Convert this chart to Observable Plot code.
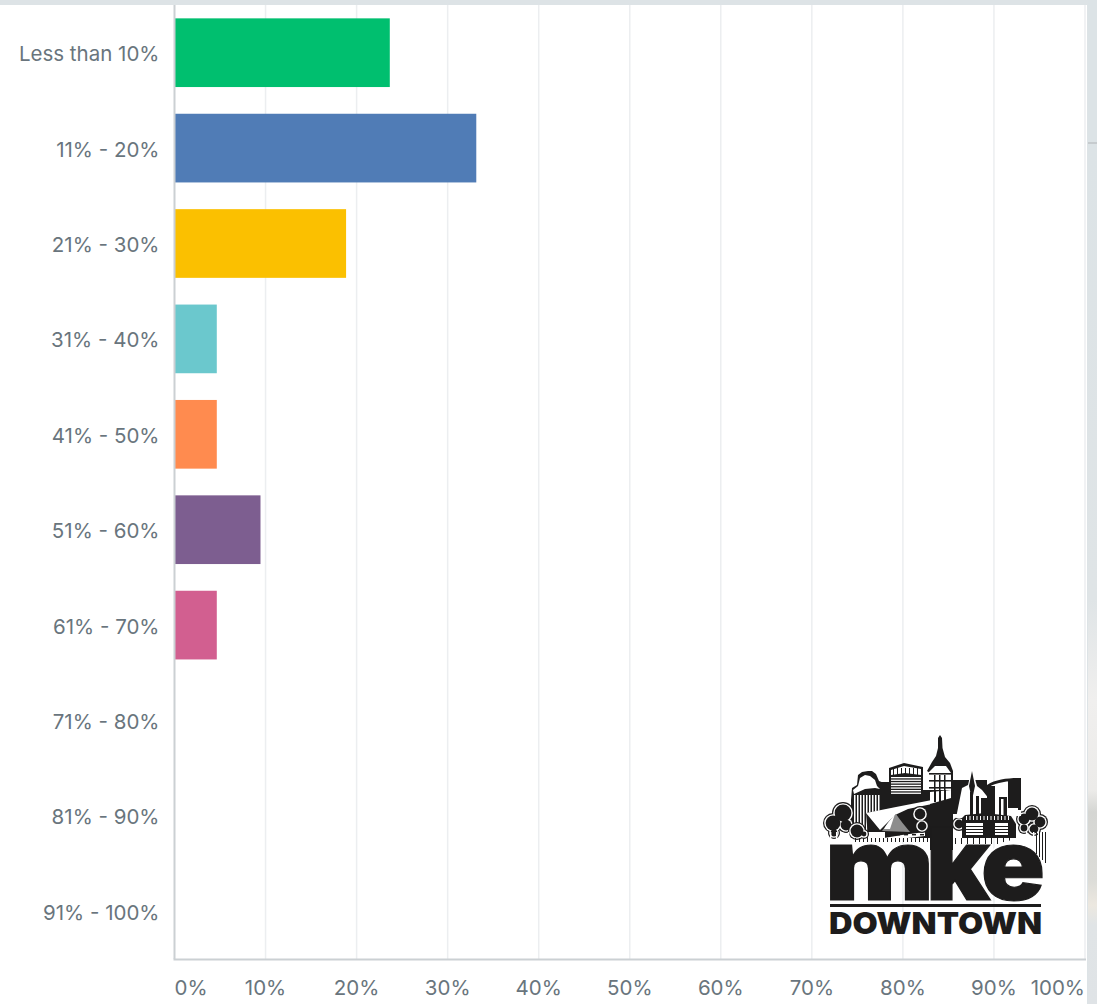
<!DOCTYPE html>
<html>
<head>
<meta charset="utf-8">
<script src="https://cdn.jsdelivr.net/npm/d3@7"></script>
<script src="https://cdn.jsdelivr.net/npm/@observablehq/plot@0.6"></script>
<style>
  html, body { margin: 0; padding: 0; background: #dde3e6; }
  #page { position: relative; width: 1097px; height: 1004px; overflow: hidden; background: #dde3e6; }
  #panel { position: absolute; left: 0; top: 5px; width: 1087px; height: 999px; background: #fff; }
  #strip { position: absolute; left: 1088px; top: 0; width: 9px; height: 1004px;
    background: linear-gradient(to bottom, #dce3e6 0, #dce3e6 142px, #c6cbce 142px, #c6cbce 144px, #dce3e6 144px,
      #dfe4e6 600px, #f0efee 700px, #ecebe9 790px, #d5d6d3 812px, #dcdcd8 880px, #ece8e0 905px, #e0e4e6 925px, #dfe3e6 1004px); }
  #chart { position: absolute; left: 0; top: 0; }
  #chart svg { background: transparent; display: block; }
</style>
</head>
<body>
<div id="page">
  <div id="panel"></div>
  <div id="strip"></div>
  <div id="chart"></div>
</div>
<script>
// Survey answers: share of respondents per range
const categories = ["Less than 10%", "11% - 20%", "21% - 30%", "31% - 40%", "41% - 50%",
  "51% - 60%", "61% - 70%", "71% - 80%", "81% - 90%", "91% - 100%"];
const shares = [23.7, 33.2, 18.9, 4.7, 4.7, 9.5, 4.7, 0, 0, 0];
const barColors = ["#00BF6F", "#507CB6", "#FBC000", "#6BC8CD", "#FF8B4F", "#7D5E90", "#D25F90",
  "#B5B5B5", "#B5B5B5", "#B5B5B5"];
const xTicks = [0, 10, 20, 30, 40, 50, 60, 70, 80, 90, 100];

const answers = categories.map((category, i) => ({category, share: shares[i], color: barColors[i]}));
const labelFont = {fontFamily: "Inter, 'Noto Sans', sans-serif", fontSize: 20.5, fill: "#69757d"};
const tickLabel = d => `${d}%`;
const xLabelOffset = 35;

const chart = Plot.plot({
  width: 1097,
  height: 1004,
  marginLeft: 174,
  marginRight: 12.5,
  marginTop: 5,
  marginBottom: 45,
  style: {background: "transparent", fontFamily: "Inter, sans-serif"},
  x: {domain: [0, 100], axis: null},
  y: {domain: categories, axis: null, paddingInner: 0.28, paddingOuter: 0.14, round: false},
  marks: [
    Plot.ruleX(xTicks.slice(1), {x: d => d, stroke: "#eceef0", strokeWidth: 1.5}),
    Plot.barX(answers.filter(d => d.share > 0), {x: "share", y: "category", fill: "color"}),
    Plot.ruleX([0], {stroke: "#cbd0d3", strokeWidth: 2}),
    Plot.frame({anchor: "bottom", stroke: "#cbd0d3", strokeWidth: 2}),
    Plot.axisY({
      anchor: "left", tickSize: 0, tickPadding: 15, label: null,
      ...labelFont, textAnchor: "end", dy: 1.5
    }),
    Plot.text(xTicks.filter(d => d > 0 && d < 100), {
      x: d => d, frameAnchor: "bottom", dy: xLabelOffset, text: tickLabel, ...labelFont, textAnchor: "middle"
    }),
    Plot.text([0], {x: d => d, frameAnchor: "bottom", dy: xLabelOffset, text: tickLabel, ...labelFont, textAnchor: "start"}),
    Plot.text([100], {x: d => d, frameAnchor: "bottom", dy: xLabelOffset, text: tickLabel, ...labelFont, textAnchor: "end"})
  ]
});
document.getElementById("chart").appendChild(chart);

// Organisation logo, lower right of the plot area
const logo = d3.select(chart).append("g").attr("class", "logo").attr("text-anchor", "start");
const INK = "#1d1c1c";
const poly = (pts, fill = INK) => logo.append("polygon").attr("points", pts).attr("fill", fill);
const box = (x, y, w, h, fill = INK) => logo.append("rect").attr("x", x).attr("y", y).attr("width", w).attr("height", h).attr("fill", fill);
const path = (d, fill = INK) => logo.append("path").attr("d", d).attr("fill", fill);

// Rounded tree: dark outline, pale gap, dark crown
function tree(lobes) {
  for (const [fill, grow] of [[INK, 0], ["#fff", -1.2], [INK, -2.6]]) {
    for (const [cx, cy, r] of lobes) {
      logo.append("circle").attr("cx", cx).attr("cy", cy).attr("r", r + grow).attr("fill", fill);
    }
  }
}

// Stepped office block on the left
poly("851,800 852,788 857,785 858,775 862,772 868,771 872,771 876,774 879,781 884,783 884,812 880,838 851,838");
poly("853,790 858,786 860,778 865,775 870,776 875,780 877,786 880,789 875,788 865,789 854,794", "#fff");
for (const x of [854, 857, 860, 863, 866, 869, 872, 875, 878]) box(x, 795, 1.5, 42, "#fff");
box(881, 782, 9, 32);

// Square tower with a hatched crown
poly("889,768 904,763 923,767 923,815 889,815");
poly("891,770 904,766 921,769 921,775 905,773 891,775", "#fff");
for (let y = 777; y < 794; y += 2.6) box(891, y, 30, 1.3, "#fff");
for (const x of [893, 897, 901, 905, 909, 913, 917]) box(x, 768, 1, 7, INK);
box(923, 790, 8, 25);

// Art museum wing and pavilion
poly("866,813 895,808 932,800 932,838 868,838", INK);
poly("866,813 880,830 888,822 895,815 908,809 932,804 932,800 896,807", "#fff");
path("M882,831 C887,824 892,818 896,814 C900,820 905,826 910,832 Z", "#8d8d8d");
path("M884,829 C888,822 892,818 895,814 L890,829 Z", "#fff");
poly("866,832 885,832 885,838 868,838", "#fff");
poly("884,838 902,835 925,832 925,836 890,840", "#fff");
for (const x of [896, 904, 912, 920]) box(x, 834, 4, 1.4, INK);

// Trees along the skyline
tree([[833, 823, 10], [843, 813, 11], [846, 825, 8], [834, 833, 6]]);
tree([[857, 831, 9], [864, 834, 5]]);
tree([[920, 814, 8], [922, 826, 7]]);
tree([[959, 824, 7]]);
tree([[1024, 819, 8], [1032, 814, 9], [1040, 822, 8], [1034, 829, 7], [1024, 828, 6]]);
for (const x of [830, 836, 842, 848, 1026, 1033, 1038]) box(x, 832, 1.4, 10, "#fff");

// Right-hand skyline: spired block, stadium and curved tower
box(953, 780, 34, 34);
poly("956,818 962,788 966,786 968,785 972,768 977,786 982,790 990,800 988,818", "#fff");
poly("972,771 975,786 972,800 969,786", INK);
box(970, 792, 3, 24, INK);
box(976, 796, 3, 20, INK);
box(981, 798, 6, 18, INK);
poly("987,785 996,781 1008,778 1021,778 1021,816 987,816", "#fff");
path("M987,785 C996,779 1008,778 1021,778 L1021,810 L1018,810 L1018,781 C1008,781 997,782 989,787 L989,816 L987,816 Z");
box(1008, 781, 11, 27);
box(987, 786, 8, 30);
box(999, 797, 8, 20, INK);
box(1001, 799, 2.5, 18, "#fff");
poly("962,818 965,815 985,813 1011,816 1016,824 1016,838 962,838");
for (let x = 966; x < 1011; x += 3.5) box(x, 816, 1, 4, "#fff");
box(966, 823, 17, 12, "#fff");
box(995, 823, 13, 12, "#fff");
for (const y of [826, 829, 832]) { box(966, y, 17, 1, INK); box(995, y, 13, 1, INK); }

// Thin vertical rules under the skyline
for (let x = 855; x < 930; x += 4) box(x, 838, 1, 4, INK);
for (let x = 955; x < 1015; x += 6) box(x, 838, 1, 6, INK);

// Clock tower, rising from the stem of the k
path("M940,735 L942,738 L942.5,748 L945,757 L950,763 L953,771 L953,850 L930,850 L930,773 L927,771 L932,762 L936,756 L938,748 L938,738 Z");
poly("929,772 935,766 946,766 951,773 951,790 929,790", "#fff");
for (const y of [773, 780, 787]) box(929, y, 22, 1.6, INK);
for (const x of [934, 939, 944]) box(x, 775, 1.5, 15, INK);
poly("930,792 951,790 951,798 930,804", "#fff");
for (const x of [934, 939, 944]) box(x, 790, 2, 12, INK);

// Pale arc following the top of the e
path("M987,868 C988,848 1000,840 1016,840 C1030,840 1043,852 1044,870 L1041,870 C1040,856 1030,845 1016,845 C1004,845 992,852 990,868 Z", "#fff");
for (const x of [1036, 1039, 1042, 1045]) box(x, 832, 1, 22 + (x - 1036), INK);

// Wordmark
const mark = (txt, x, w) => logo.append("text").text(txt).attr("x", x).attr("y", 900)
  .attr("font-family", "Inter, sans-serif").attr("font-weight", 900).attr("font-size", 100)
  .attr("textLength", w).attr("lengthAdjust", "spacingAndGlyphs")
  .attr("fill", INK).attr("stroke", INK).attr("stroke-width", 1.2);
mark("m", 825, 109);
mark("k", 926, 64);
mark("e", 981, 64);
box(830, 904, 211, 3);
logo.append("text").text("DOWNTOWN").attr("x", 829).attr("y", 934)
  .attr("font-family", "Inter, sans-serif").attr("font-weight", 900).attr("font-size", 30)
  .attr("textLength", 213).attr("lengthAdjust", "spacingAndGlyphs").attr("fill", INK);
</script>
</body>
</html>
